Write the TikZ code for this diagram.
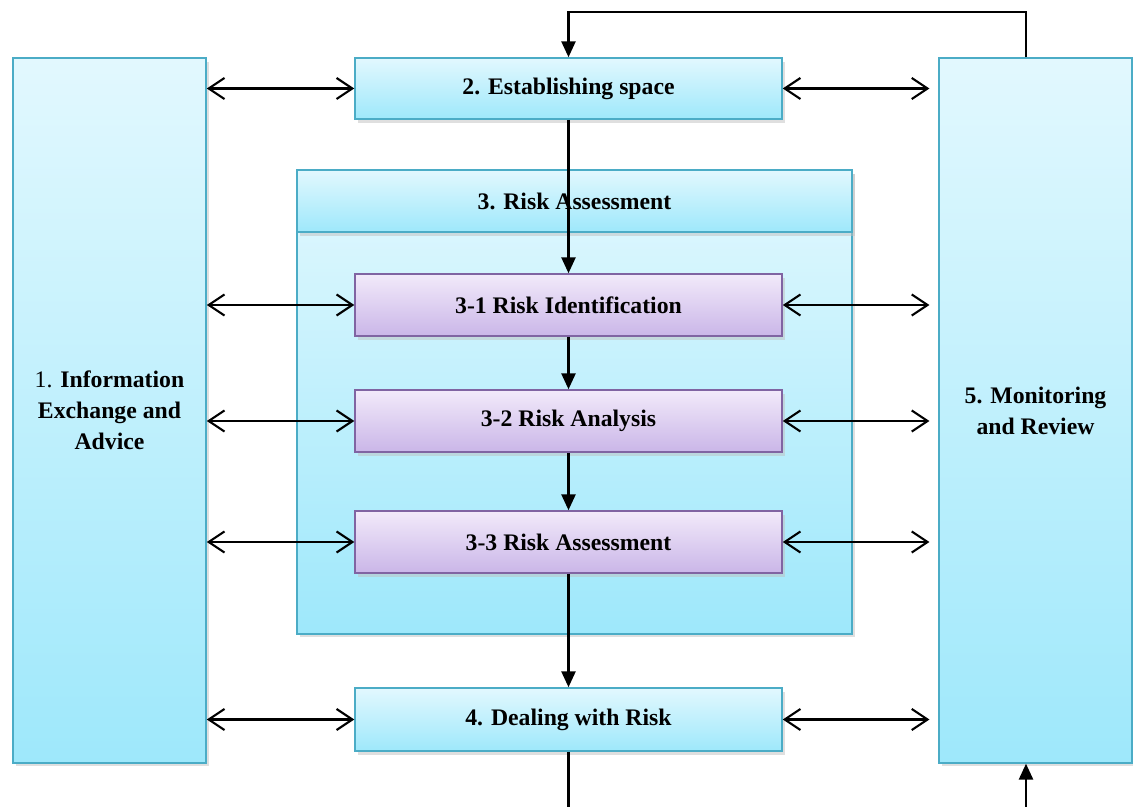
\documentclass[tikz,border=0pt]{standalone}
\usepackage{fontspec}
\setmainfont{Liberation Serif}
\usetikzlibrary{arrows.meta,shadows}
\definecolor{aquaTop}{RGB}{226,248,254}
\definecolor{aquaBot}{RGB}{158,232,251}
\definecolor{aquaLine}{RGB}{75,172,198}
\definecolor{lilacTop}{RGB}{242,234,250}
\definecolor{lilacBot}{RGB}{202,182,232}
\definecolor{lilacLine}{RGB}{128,100,162}

\begin{document}
\begin{tikzpicture}[x=0.02cm,y=-0.02cm, every node/.style={font=\fontsize{13.5}{17.6}\selectfont\bfseries, inner sep=0pt},
    aquabox/.style={draw=aquaLine, line width=0.9pt, top color=aquaTop, bottom color=aquaBot, drop shadow={shadow xshift=1.5pt, shadow yshift=-2pt, fill=black!25}},
    lilacbox/.style={draw=lilacLine, line width=0.9pt, top color=lilacTop, bottom color=lilacBot, drop shadow={shadow xshift=1.5pt, shadow yshift=-2pt, fill=black!25}, minimum width=8.54cm, minimum height=1.24cm},
    both/.style={{Straight Barb[length=9pt,width=12pt]}-{Straight Barb[length=9pt,width=12pt]}, line width=1.2pt},
    flow/.style={-{Triangle[length=9pt,width=8pt]}, line width=1.2pt}]
    \useasboundingbox (0,0) rectangle (1133,807);
    % side columns
    \node[aquabox, minimum width=3.86cm, minimum height=14.1cm, align=center] (info) at (109.5,410.5) {{\mdseries 1.} Information\\Exchange and\\Advice};
    \node[aquabox, minimum width=3.86cm, minimum height=14.1cm, align=center] (mon) at (1035.5,410.5) {5. Monitoring\\and Review};
    % middle column
    \node[aquabox, minimum width=8.54cm, minimum height=1.22cm] (est) at (568.5,88.5) {2. Establishing space};
    \node[aquabox, minimum width=11.1cm, minimum height=9.28cm] (assess) at (574.5,402) {};
    \node[aquabox, minimum width=11.1cm, minimum height=1.24cm] (assesshead) at (574.5,201) {3. Risk Assessment};
    \node[lilacbox] (ident) at (568.5,305) {3-1 Risk Identification};
    \node[lilacbox] (analy) at (568.5,421) {3-2 Risk Analysis};
    \node[lilacbox] (evalu) at (568.5,542) {3-3 Risk Assessment};
    \node[aquabox, minimum width=8.54cm, minimum height=1.26cm] (treat) at (568.5,719.5) {4. Dealing with Risk};
    \coordinate (monL) at ([xshift=-5pt]mon.west);
    \coordinate (loopTop) at (1026,12);
    \coordinate (loopIn) at (1026,807);
    \coordinate (exitB) at (568.5,807);
    % exchanges with the side columns
    \foreach \b in {est,ident,analy,evalu,treat} {
        \draw[both] (info.east |- \b.west) -- (\b.west);
        \draw[both] (\b.east) -- (monL |- \b.east);
    }
    % main flow
    \draw[flow] (est.south) -- (ident.north);
    \draw[flow] (ident.south) -- (analy.north);
    \draw[flow] (analy.south) -- (evalu.north);
    \draw[flow] (evalu.south) -- (treat.north);
    \draw[line width=1.2pt] (treat.south) -- (exitB);
    % feedback loop
    \draw[flow] (loopIn) -- (mon.south -| loopIn);
    \draw[flow] (mon.north -| loopTop) -- (loopTop) -| (est.north);
\end{tikzpicture}
\end{document}
